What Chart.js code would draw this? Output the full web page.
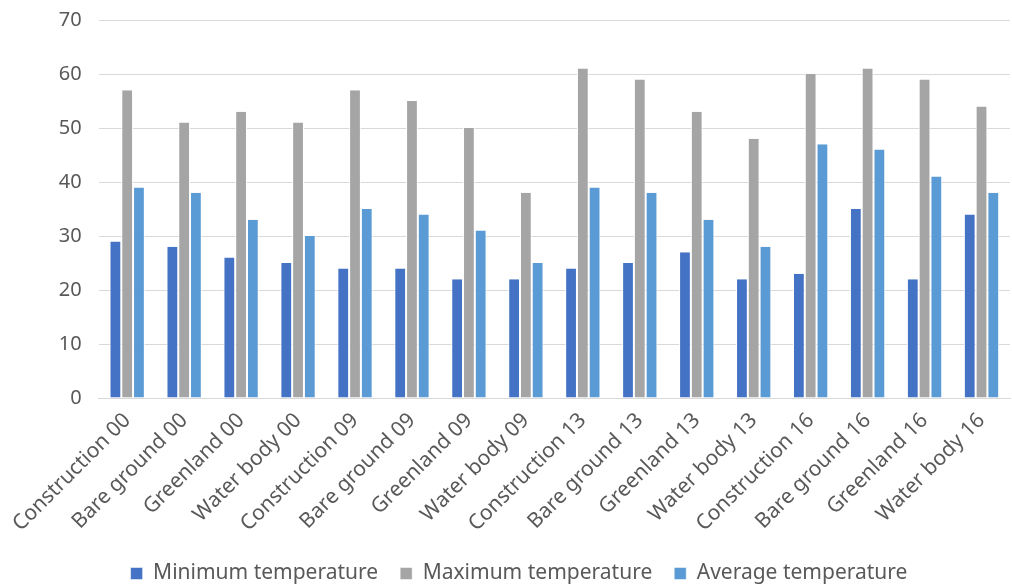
<!DOCTYPE html>
<html>
<head>
<meta charset="utf-8">
<script src="https://cdn.jsdelivr.net/npm/chart.js@4/dist/chart.umd.min.js"></script>
<style>
  html, body { margin: 0; padding: 0; background: #fff; }
  #wrap { width: 1012px; height: 586px; }
</style>
</head>
<body>
<div id="wrap"><canvas id="tempChart"></canvas></div>
<script>
var categories = ['Construction 00', 'Bare ground 00', 'Greenland 00', 'Water body 00',
                  'Construction 09', 'Bare ground 09', 'Greenland 09', 'Water body 09',
                  'Construction 13', 'Bare ground 13', 'Greenland 13', 'Water body 13',
                  'Construction 16', 'Bare ground 16', 'Greenland 16', 'Water body 16'];
var minTemp = [29, 28, 26, 25, 24, 24, 22, 22, 24, 25, 27, 22, 23, 35, 22, 34];
var maxTemp = [57, 51, 53, 51, 57, 55, 50, 38, 61, 59, 53, 48, 60, 61, 59, 54];
var avgTemp = [39, 38, 33, 30, 35, 34, 31, 25, 39, 38, 33, 28, 47, 46, 41, 38];
var yTicks = [0, 10, 20, 30, 40, 50, 60, 70];

var font = "'Noto Sans', 'DejaVu Sans', sans-serif";

var ctx = document.getElementById('tempChart').getContext('2d');
var tempChart = new Chart(ctx, {
    type: 'bar',
    data: {
        labels: categories,
        datasets: [{
            label: 'Minimum temperature',
            data: minTemp,
            backgroundColor: '#4472C4',
            borderColor: '#ffffff',
            borderWidth: { left: 1, right: 1, top: 0, bottom: 0 }
        }, {
            label: 'Maximum temperature',
            data: maxTemp,
            backgroundColor: '#A5A5A5',
            borderColor: '#ffffff',
            borderWidth: { left: 1, right: 1, top: 0, bottom: 0 }
        }, {
            label: 'Average temperature',
            data: avgTemp,
            backgroundColor: '#5B9BD5',
            borderColor: '#ffffff',
            borderWidth: { left: 1, right: 1, top: 0, bottom: 0 }
        }]
    },
    options: {
        responsive: true,
        maintainAspectRatio: false,
        animation: false,
        devicePixelRatio: 1,
        categoryPercentage: 0.62,
        barPercentage: 1.0,
        layout: {
            padding: { left: 28, right: 2, top: 20, bottom: -8 }
        },
        scales: {
            x: {
                grid: { display: false, drawTicks: false },
                border: { color: '#d9d9d9', width: 1 },
                ticks: {
                    color: '#595959',
                    font: { family: font, size: 21 },
                    minRotation: 45,
                    maxRotation: 45,
                    padding: 10,
                    autoSkip: false
                },
                afterFit: function(axis) {
                    axis.height = 143;
                    axis.paddingLeft += 4;
                }
            },
            y: {
                min: 0,
                max: 70,
                afterBuildTicks: function(axis) {
                    axis.ticks = yTicks.map(function(v) { return { value: v }; });
                },
                afterFit: function(axis) {
                    axis.paddingTop = 0;
                },
                grid: { color: '#d9d9d9', lineWidth: 1, drawTicks: false },
                border: { display: false },
                ticks: {
                    color: '#595959',
                    font: { family: font, size: 20 },
                    padding: 17
                }
            }
        },
        plugins: {
            legend: {
                position: 'bottom',
                labels: {
                    color: '#595959',
                    font: { family: font, size: 21 },
                    boxWidth: 12,
                    boxHeight: 12,
                    padding: 22
                }
            },
            tooltip: { enabled: false }
        }
    }
});
</script>
</body>
</html>
